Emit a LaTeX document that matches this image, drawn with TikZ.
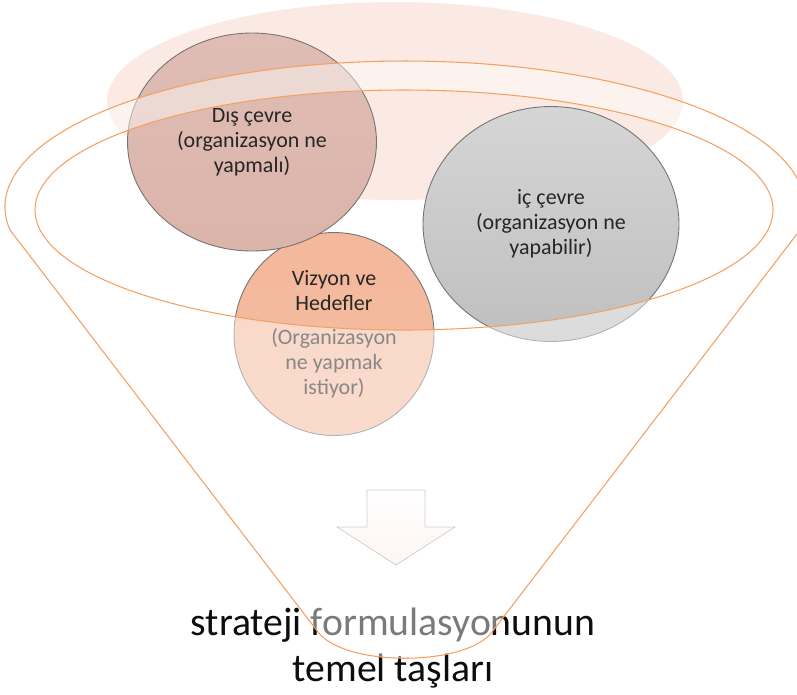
\documentclass[tikz,border=0pt]{standalone}
\usepackage{fontspec}
\setmainfont{Carlito}
\usetikzlibrary{shapes.geometric}
\definecolor{fondo}{HTML}{FBEAE3}
\definecolor{rosa}{HTML}{DBB4AA}
\definecolor{salmon}{HTML}{F4B89B}
\definecolor{gris}{HTML}{CBCBCB}
\definecolor{naranja}{HTML}{F4A063}

\begin{document}
\begin{tikzpicture}[x=0.02cm, y=-0.02cm,
    circulo/.style={ellipse, draw=black!55, line width=0.5pt, inner sep=0pt,
        align=center, text=black!85, font=\fontsize{12.5}{14.2}\selectfont},
    borde/.style={draw=naranja, line width=0.6pt}]
    % Definir el contorno del embudo
    \def\embudo{(10,230) arc[start angle=170.94, end angle=369.06, x radius=400, y radius=146]
        -- (492,632) .. controls (465,667) and (345,667) .. (318,632) -- cycle}
    \useasboundingbox (0,0) rectangle (797,694);

    % Elipse de fondo
    \fill[fondo] (395,101) ellipse[x radius=288, y radius=99];

    % Los tres circulos con sus textos
    \node[circulo, top color=salmon, bottom color=salmon!92!white,
        minimum width=4cm, minimum height=4.06cm] (vizyon) at (334,334)
        {Vizyon ve\\Hedefler\\[5pt](Organizasyon\\ne yapmak\\istiyor)};
    \node[circulo, top color=rosa!88!white, bottom color=rosa,
        minimum width=4.98cm, minimum height=4.36cm] (dis) at (252,142)
        {Dış çevre\\(organizasyon ne\\yapmalı)};
    \node[circulo, top color=gris!80!white, bottom color=gris!94!black,
        minimum width=5.12cm, minimum height=4.7cm] (ic) at (551,224)
        {iç çevre\\(organizasyon ne\\yapabilir)};

    % Flecha hacia abajo
    \draw[draw=black!35, line width=0.4pt, top color=white, bottom color=fondo!80]
        (367,490) -- (425,490) -- (425,527) -- (455,527) -- (396,565)
        -- (337,527) -- (367,527) -- cycle;

    % Texto final
    \node[font=\fontsize{22.6}{26.6}\selectfont, align=center, text=black!95]
        (titulo) at (393,648) {strateji formulasyonunun\\temel taşları};

    % Relleno blanco del embudo (sin el interior de la boca)
    \fill[white, opacity=0.45, even odd rule] \embudo
        (404,210) ellipse[x radius=369, y radius=120];

    % Dibujar el embudo
    \draw[borde] \embudo;
    \draw[borde] (404,210) ellipse[x radius=369, y radius=120];
\end{tikzpicture}
\end{document}
